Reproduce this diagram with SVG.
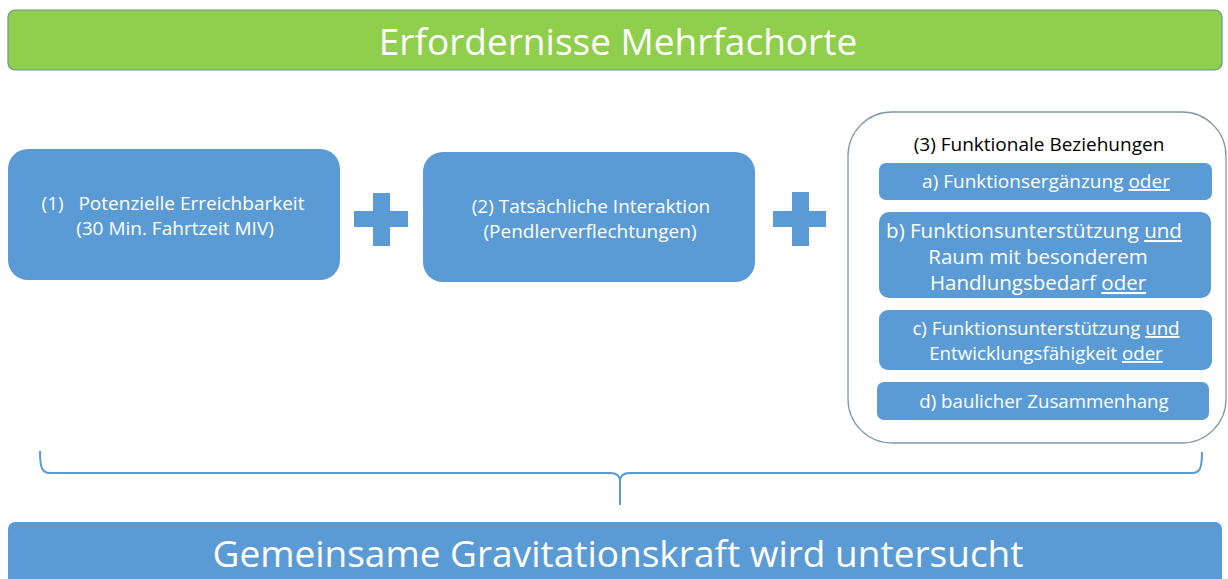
<svg xmlns="http://www.w3.org/2000/svg" width="1228" height="579" viewBox="0 0 1228 579">
<style>
.box{fill:#5b9bd5;}
.wt{fill:#ffffff;font-family:"Open Sans","Noto Sans",sans-serif;text-anchor:middle;}
.bt{fill:#000000;font-family:"Open Sans","Noto Sans",sans-serif;text-anchor:middle;}
.u{text-decoration:underline;}
.s{font-size:19px;}
.m{font-size:18.7px;}
.l{font-size:20.5px;}
</style>
<rect width="1228" height="579" fill="#ffffff"/>
<g id="header">
<rect x="8" y="10" width="1214" height="60" rx="7" fill="#8fcf4b" stroke="#6f8f9c" stroke-width="1.2"/>
<text class="wt" x="618" y="55" font-size="37">Erfordernisse Mehrfachorte</text>
</g>
<g id="node1">
<rect class="box" x="8" y="149" width="332" height="131" rx="20"/>
<text class="wt s" x="173" y="210" xml:space="preserve">(1)   Potenzielle Erreichbarkeit</text>
<text class="wt s" x="175" y="235">(30 Min. Fahrtzeit MIV)</text>
</g>
<g id="plus1">
<path class="box" d="M373,193 H390 V211 H408 V227 H390 V246 H373 V227 H354 V211 H373 Z"/>
</g>
<g id="node2">
<rect class="box" x="423" y="152" width="332" height="130" rx="20"/>
<text class="wt s" x="591" y="213">(2) Tatsächliche Interaktion</text>
<text class="wt s" x="590" y="238">(Pendlerverflechtungen)</text>
</g>
<g id="plus2">
<path class="box" d="M792,192 H809 V211 H826 V227 H809 V246 H792 V227 H773 V211 H792 Z"/>
</g>
<g id="node3">
<rect x="848" y="112" width="378" height="331" rx="44" fill="#ffffff" stroke="#7f98aa" stroke-width="1.3"/>
<text class="bt s" x="1039" y="151">(3) Funktionale Beziehungen</text>
</g>
<g id="node3a">
<rect class="box" x="879" y="163" width="333" height="37" rx="7"/>
<text class="wt s" x="1046" y="188">a) Funktionsergänzung <tspan class="u">oder</tspan></text>
</g>
<g id="node3b">
<rect class="box" x="879" y="212" width="332" height="86" rx="10"/>
<text class="wt l" x="1034" y="238">b) Funktionsunterstützung <tspan class="u">und</tspan></text>
<text class="wt l" x="1038" y="264">Raum mit besonderem</text>
<text class="wt l" x="1038" y="290">Handlungsbedarf <tspan class="u">oder</tspan></text>
</g>
<g id="node3c">
<rect class="box" x="879" y="310" width="333" height="60" rx="9"/>
<text class="wt m" x="1046" y="335">c) Funktionsunterstützung <tspan class="u">und</tspan></text>
<text class="wt m" x="1046" y="360">Entwicklungsfähigkeit <tspan class="u">oder</tspan></text>
</g>
<g id="node3d">
<rect class="box" x="877" y="382" width="332" height="38" rx="7"/>
<text class="wt m" x="1044" y="408">d) baulicher Zusammenhang</text>
</g>
<g id="connectors">
<path d="M40,451 C40,468 42,473 50,473 L610,473 C617,473 620,476 620,481 C620,476 623,473 630,473 L1192,473 C1200,473 1202,468 1202,452" fill="none" stroke="#5b9bd5" stroke-width="2"/>
<path d="M620,479 L620,505" fill="none" stroke="#5b9bd5" stroke-width="2"/>
</g>
<g id="footer">
<rect class="box" x="8" y="522" width="1214" height="70" rx="7"/>
<text class="wt" x="618" y="567" font-size="37">Gemeinsame Gravitationskraft wird untersucht</text>
</g>
</svg>
